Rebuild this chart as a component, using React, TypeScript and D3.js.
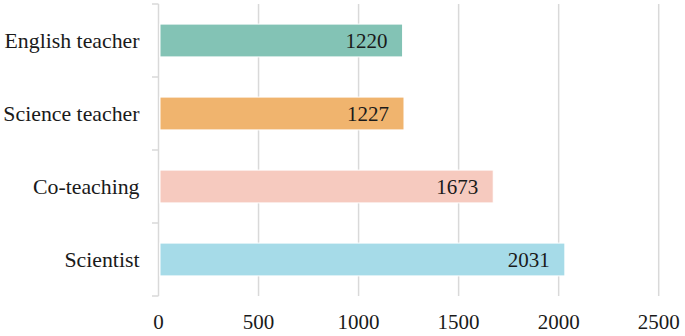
import React from "react";
import * as d3 from "d3";

const categories = ["English teacher", "Science teacher", "Co-teaching", "Scientist"];
const values = [1220, 1227, 1673, 2031];
const colors = ["#83c3b5", "#f0b46e", "#f6cabf", "#a6dbe8"];
const xTicks = [0, 500, 1000, 1500, 2000, 2500];

const W = 685;
const H = 336;
const FONT = '"Liberation Serif"';

export default function App() {
  const x = d3.scaleLinear().domain([0, 2500]).range([158.5, 658.7]);
  const y = d3.scaleBand<string>().domain(categories).range([4, 296]).paddingInner(0.55).paddingOuter(0.275);
  const band = d3.scaleBand<string>().domain(categories).range([4, 296]);
  const grid = "#d9d9d9";
  const ink = "#1a1a1a";

  return (
    <svg width={W} height={H} style={{ position: "absolute", left: 0, top: 0, background: "#fff" }}>
      {xTicks.slice(1).map((t) => (
        <line key={t} x1={x(t)} x2={x(t)} y1={4} y2={296} stroke={grid} strokeWidth={1.5} />
      ))}
      <line x1={x(0)} x2={x(0)} y1={4} y2={296} stroke={grid} strokeWidth={1.5} />
      {categories.map((c) => (
        <line key={c} x1={152} x2={x(0)} y1={band(c)!} y2={band(c)!} stroke={grid} strokeWidth={1.5} />
      ))}
      <line x1={152} x2={x(0)} y1={296} y2={296} stroke={grid} strokeWidth={1.5} />
      {categories.map((c, i) => {
        const yc = (y(c) as number) + y.bandwidth() / 2;
        return (
          <g key={c}>
            <rect
              x={x(0) + 1.5}
              y={y(c)}
              width={x(values[i]) - x(0) - 1.5}
              height={y.bandwidth()}
              fill={colors[i]}
              stroke="#fff"
              strokeWidth={1}
            />
            <text x={x(values[i]) - 15} y={yc + 7.5} textAnchor="end" fontSize={21} fill={ink} style={{ fontFamily: FONT }}>
              {values[i]}
            </text>
            <text x={139.5} y={yc + 7.8} textAnchor="end" fontSize={21.8} fill={ink} style={{ fontFamily: FONT }}>
              {c}
            </text>
          </g>
        );
      })}
      {xTicks.map((t) => (
        <text key={t} x={x(t)} y={329} textAnchor="middle" fontSize={21} fill={ink} style={{ fontFamily: FONT }}>
          {t}
        </text>
      ))}
    </svg>
  );
}
